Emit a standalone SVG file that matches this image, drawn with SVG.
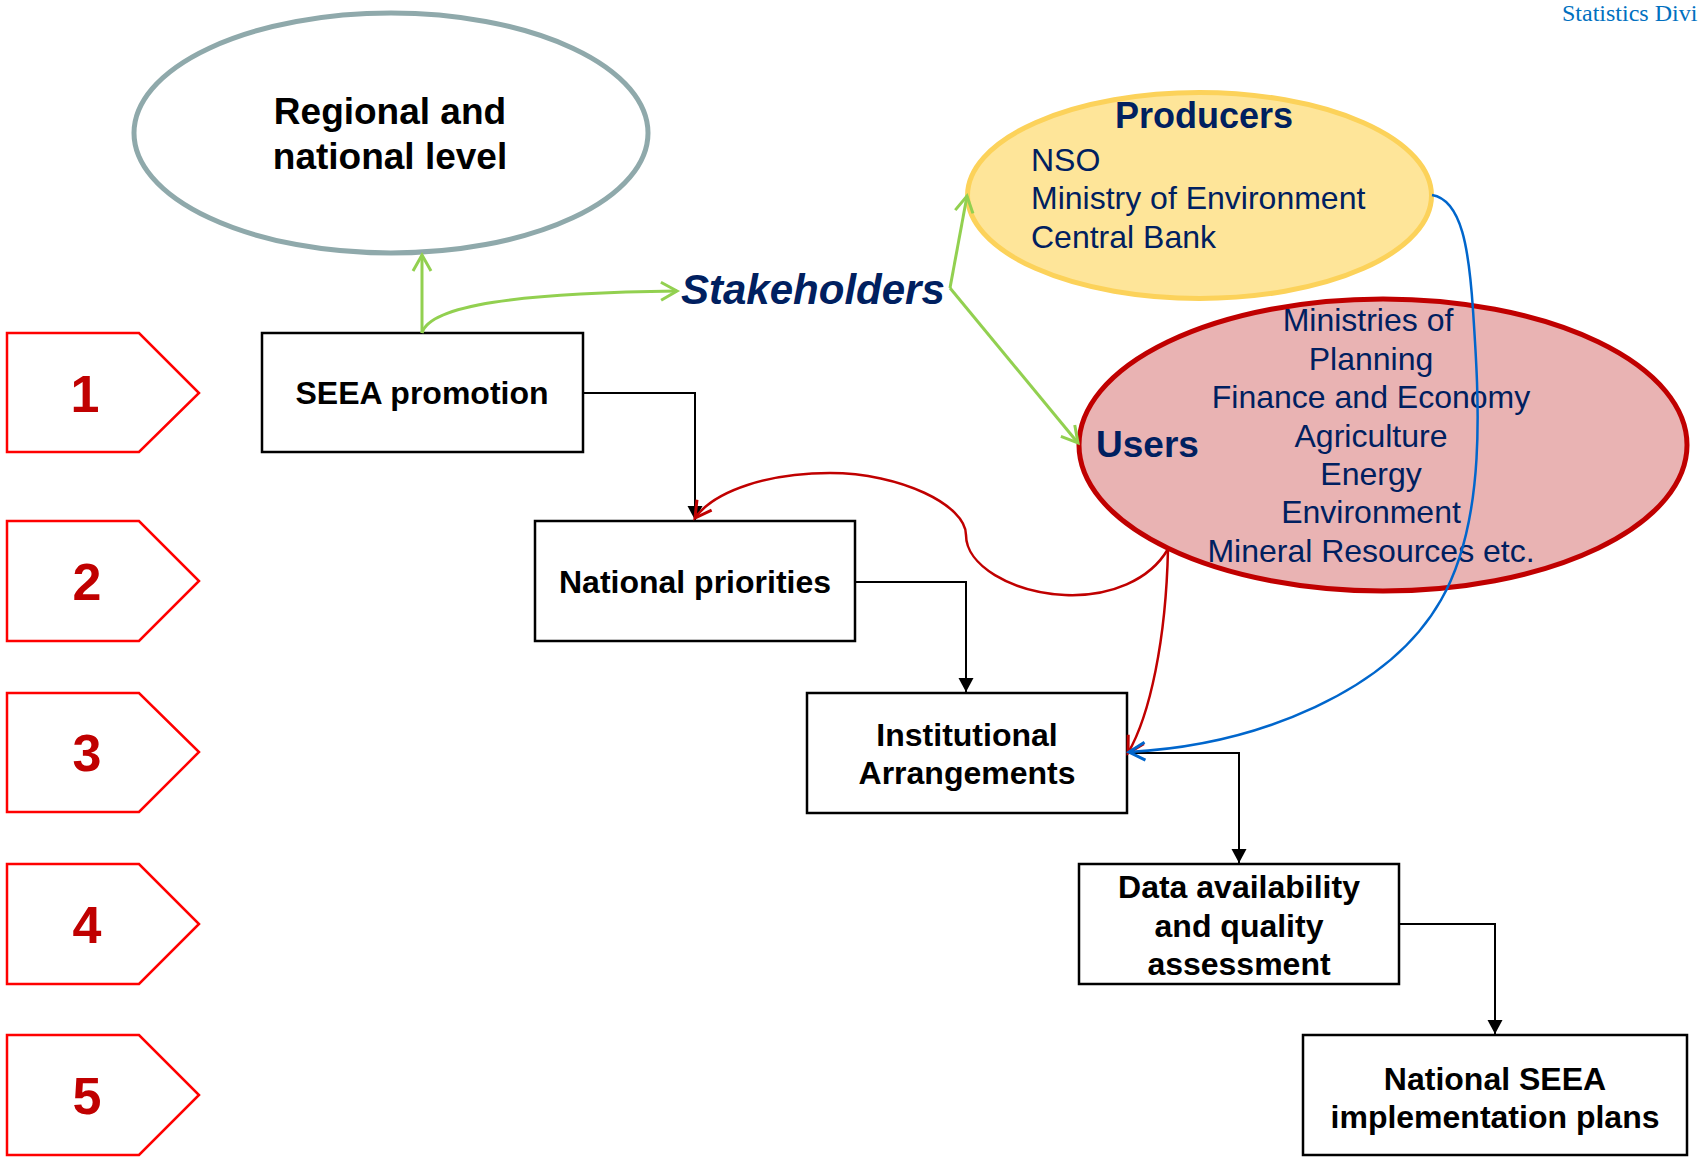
<svg xmlns="http://www.w3.org/2000/svg" width="1700" height="1161" viewBox="0 0 1700 1161">
<defs>
<style>
.box{fill:#fff;stroke:#000;stroke-width:2.5;}
.bt{font-family:"Liberation Sans",Arial,sans-serif;font-weight:bold;font-size:32px;fill:#000;text-anchor:middle;}
.pent{fill:#fff;stroke:#ff0000;stroke-width:2.5;}
.num{font-family:"Liberation Sans",Arial,sans-serif;font-weight:bold;font-size:52px;fill:#c00000;text-anchor:middle;}
.nv{font-family:"Liberation Sans",Arial,sans-serif;fill:#002060;font-size:32px;}
.nvb{font-family:"Liberation Sans",Arial,sans-serif;fill:#002060;font-weight:bold;}
.blk{fill:none;stroke:#000;stroke-width:2;}
.grn{fill:none;stroke:#92d050;stroke-width:3;}
.red{fill:none;stroke:#c00000;stroke-width:2.5;}
.blu{fill:none;stroke:#0066cc;stroke-width:2.5;}
</style>
<marker id="ab" markerUnits="userSpaceOnUse" markerWidth="16" markerHeight="16" refX="14" refY="7.5" orient="auto" overflow="visible">
<path d="M0,0 L14,7.5 L0,15 z" fill="#000"/>
</marker>
<marker id="ag" markerUnits="userSpaceOnUse" markerWidth="20" markerHeight="20" refX="16" refY="9" orient="auto" overflow="visible">
<path d="M0,0 L16,9 L0,18" fill="none" stroke="#92d050" stroke-width="3"/>
</marker>
<marker id="ar" markerUnits="userSpaceOnUse" markerWidth="20" markerHeight="20" refX="16" refY="9" orient="auto" overflow="visible">
<path d="M0,0 L16,9 L0,18" fill="none" stroke="#c00000" stroke-width="3"/>
</marker>
<marker id="abl" markerUnits="userSpaceOnUse" markerWidth="20" markerHeight="20" refX="16" refY="9" orient="auto" overflow="visible">
<path d="M0,0 L16,9 L0,18" fill="none" stroke="#0066cc" stroke-width="3"/>
</marker>
</defs>
<rect width="1700" height="1161" fill="#fff"/>
<text x="1562" y="21" font-family="Liberation Serif,Times New Roman,serif" font-size="24" fill="#0070c0">Statistics Divi</text>

<g id="step1"><polygon class="pent" points="7,333 139,333 199,393 139,452 7,452"/><text class="num" x="85" y="412">1</text></g>
<g id="step2"><polygon class="pent" points="7,521 139,521 199,581 139,641 7,641"/><text class="num" x="87" y="600">2</text></g>
<g id="step3"><polygon class="pent" points="7,693 139,693 199,752 139,812 7,812"/><text class="num" x="87" y="771">3</text></g>
<g id="step4"><polygon class="pent" points="7,864 139,864 199,924 139,984 7,984"/><text class="num" x="87" y="943">4</text></g>
<g id="step5"><polygon class="pent" points="7,1035 139,1035 199,1095 139,1155 7,1155"/><text class="num" x="87" y="1114">5</text></g>

<g id="regional">
<ellipse cx="391" cy="133" rx="257" ry="120" fill="#fff" stroke="#8fa9ab" stroke-width="5"/>
<text class="bt" style="font-size:37px" x="390" y="124">Regional and</text>
<text class="bt" style="font-size:37px" x="390" y="169">national level</text>
</g>

<g id="producers">
<ellipse cx="1199.5" cy="195.5" rx="232" ry="103" fill="#fee599" stroke="#fcd25a" stroke-width="5"/>
<text class="nvb" x="1204" y="128" font-size="36" text-anchor="middle">Producers</text>
<text class="nv" x="1031" y="171">NSO</text>
<text class="nv" x="1031" y="209">Ministry of Environment</text>
<text class="nv" x="1031" y="248">Central Bank</text>
</g>

<g id="users">
<ellipse cx="1383" cy="445" rx="304" ry="146" fill="#e9b3b3" stroke="#c00000" stroke-width="5"/>
<text class="nvb" x="1096" y="457" font-size="37">Users</text>
<g text-anchor="middle">
<text class="nv" x="1368" y="331">Ministries of</text>
<text class="nv" x="1371" y="370">Planning</text>
<text class="nv" x="1371" y="408">Finance and Economy</text>
<text class="nv" x="1371" y="447">Agriculture</text>
<text class="nv" x="1371" y="485">Energy</text>
<text class="nv" x="1371" y="523">Environment</text>
<text class="nv" x="1371" y="562">Mineral Resources etc.</text>
</g>
</g>

<g id="stakeholders">
<text class="nvb" x="681" y="304" font-size="42" font-style="italic">Stakeholders</text>
</g>

<g id="seea"><rect class="box" x="262" y="333" width="321" height="119"/><text class="bt" x="422" y="404">SEEA promotion</text></g>
<g id="priorities"><rect class="box" x="535" y="521" width="320" height="120"/><text class="bt" x="695" y="593">National priorities</text></g>
<g id="institutional"><rect class="box" x="807" y="693" width="320" height="120"/><text class="bt" x="967" y="746">Institutional</text><text class="bt" x="967" y="784">Arrangements</text></g>
<g id="data"><rect class="box" x="1079" y="864" width="320" height="120"/><text class="bt" x="1239" y="898">Data availability</text><text class="bt" x="1239" y="937">and quality</text><text class="bt" x="1239" y="975">assessment</text></g>
<g id="plans"><rect class="box" x="1303" y="1035" width="384" height="120"/><text class="bt" x="1495" y="1090">National SEEA</text><text class="bt" x="1495" y="1128">implementation plans</text></g>

<g id="connectors">
<path class="blk" d="M583,393 H695 V520" marker-end="url(#ab)"/>
<path class="blk" d="M855,582 H966 V692" marker-end="url(#ab)"/>
<path class="blk" d="M1127,753 H1239 V863" marker-end="url(#ab)"/>
<path class="blk" d="M1399,924 H1495 V1034" marker-end="url(#ab)"/>
<path class="grn" d="M422,333 V255" marker-end="url(#ag)"/>
<path class="grn" d="M422,333 C430,305 520,293 677,291" marker-end="url(#ag)"/>
<path class="grn" d="M950,288 L967,196" marker-end="url(#ag)"/>
<path class="grn" d="M950,288 L1078,443" marker-end="url(#ag)"/>
<path class="red" d="M1168,549 C1150,580 1110,597 1065,595 C1010,592 966,565 966,535 C966,505 900,473 830,473 C770,473 715,490 695,518" marker-end="url(#ar)"/>
<path class="red" d="M1168,549 C1166,640 1150,715 1128,753" marker-end="url(#ar)"/>
<path class="blu" d="M1432,195 C1462,200 1469,250 1473,310 C1479,400 1487,520 1441,600 C1390,690 1260,745 1129,752" marker-end="url(#abl)"/>
</g>
</svg>
